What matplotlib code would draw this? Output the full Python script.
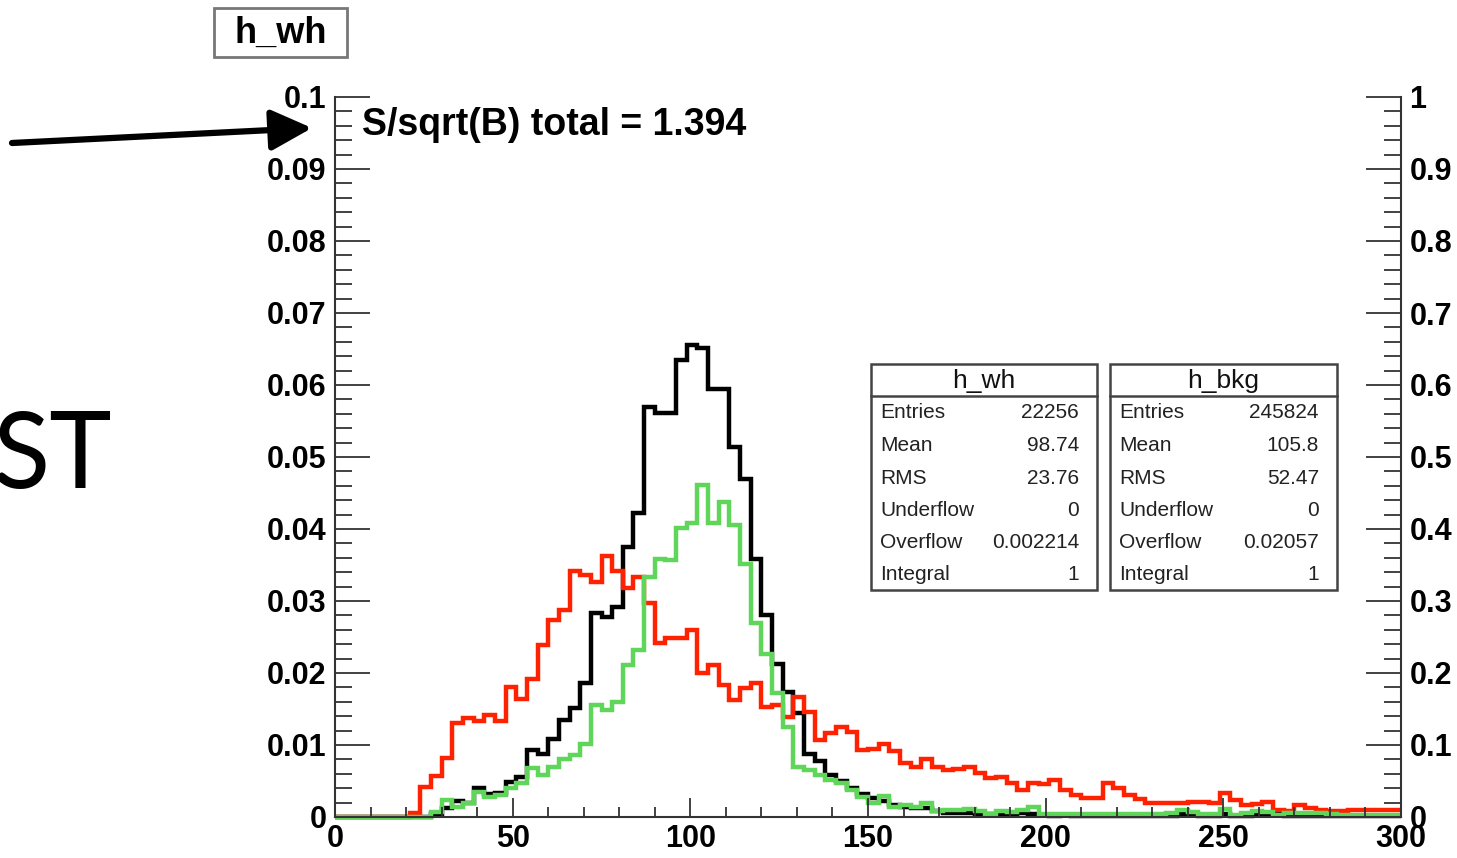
import numpy as np
import matplotlib
matplotlib.use("Agg")
import matplotlib.pyplot as plt
from matplotlib.patches import Rectangle, FancyArrowPatch
from matplotlib.ticker import MultipleLocator, FixedLocator, FuncFormatter

# ---------------------------------------------------------------- data
bin_edges = np.arange(0, 301, 3)

# signal (h_wh), normalised
h_wh = [
    0, 0, 0, 0, 0, 0, 0, 0, 0, 0.0004,
    0.0012, 0.0022, 0.0020, 0.0040, 0.0032, 0.0034, 0.0049, 0.0056, 0.0093, 0.0088,
    0.0109, 0.0135, 0.0151, 0.0186, 0.0283, 0.0278, 0.0292, 0.0375, 0.0422, 0.0570,
    0.0561, 0.0561, 0.0635, 0.0656, 0.0651, 0.0595, 0.0595, 0.0514, 0.0470, 0.0359,
    0.0281, 0.0213, 0.0174, 0.0144, 0.0088, 0.0078, 0.0058, 0.0050, 0.0040, 0.0032,
    0.0026, 0.0022, 0.0017, 0.0014, 0.0012, 0.0012, 0.0008, 0.0006, 0.0006, 0.0005,
    0.0004, 0.0004, 0.0003, 0.0003, 0.0005, 0.0004, 0.0003, 0.0002, 0.0003, 0.0002,
    0.0002, 0.0002, 0.0002, 0.0002, 0.0001, 0.0002, 0.0002, 0.0002, 0.0002, 0.0004,
    0.0003, 0.0002, 0.0002, 0.0004, 0.0002, 0.0002, 0.0003, 0.0004, 0.0004, 0.0002,
    0.0001, 0.0002, 0.0002, 0.0001, 0.0002, 0.0001, 0.0001, 0.0002, 0.0001, 0.0001,
]

# background (h_bkg), normalised
h_bkg = [
    0, 0, 0, 0, 0, 0, 0, 0.0005, 0.0042, 0.0057,
    0.0082, 0.0130, 0.0137, 0.0133, 0.0142, 0.0133, 0.0181, 0.0164, 0.0192, 0.0239,
    0.0274, 0.0288, 0.0341, 0.0336, 0.0327, 0.0362, 0.0341, 0.0318, 0.0334, 0.0297,
    0.0241, 0.0248, 0.0248, 0.0260, 0.0200, 0.0211, 0.0183, 0.0163, 0.0179, 0.0186,
    0.0153, 0.0156, 0.0139, 0.0167, 0.0146, 0.0107, 0.0116, 0.0125, 0.0118, 0.0093,
    0.0095, 0.0102, 0.0092, 0.0075, 0.0070, 0.0081, 0.0070, 0.0065, 0.0066, 0.0070,
    0.0061, 0.0054, 0.0056, 0.0047, 0.0038, 0.0047, 0.0046, 0.0051, 0.0038, 0.0031,
    0.0027, 0.0026, 0.0047, 0.0040, 0.0030, 0.0025, 0.0020, 0.0020, 0.0019, 0.0019,
    0.0021, 0.0021, 0.0019, 0.0033, 0.0024, 0.0016, 0.0018, 0.0021, 0.0010, 0.0009,
    0.0016, 0.0012, 0.0010, 0.0008, 0.0008, 0.0010, 0.0010, 0.0010, 0.0010, 0.0010,
]

# signal after selection
h_sel = [
    0, 0, 0, 0, 0, 0, 0, 0, 0, 0.0007,
    0.0024, 0.0014, 0.0019, 0.0035, 0.0028, 0.0030, 0.0040, 0.0047, 0.0068, 0.0058,
    0.0070, 0.0081, 0.0086, 0.0102, 0.0156, 0.0149, 0.0160, 0.0211, 0.0232, 0.0334,
    0.0359, 0.0357, 0.0402, 0.0408, 0.0461, 0.0409, 0.0438, 0.0406, 0.0352, 0.0269,
    0.0227, 0.0172, 0.0125, 0.0070, 0.0065, 0.0058, 0.0051, 0.0047, 0.0038, 0.0028,
    0.0019, 0.0029, 0.0014, 0.0016, 0.0014, 0.0020, 0.0009, 0.0010, 0.0010, 0.0011,
    0.0008, 0.0004, 0.0008, 0.0007, 0.0010, 0.0014, 0.0004, 0.0004, 0.0004, 0.0004,
    0.0004, 0.0004, 0.0004, 0.0004, 0.0004, 0.0004, 0.0004, 0.0004, 0.0005, 0.0010,
    0.0007, 0.0004, 0.0004, 0.0011, 0.0003, 0.0006, 0.0008, 0.0007, 0.0003, 0.0005,
    0.0005, 0.0005, 0.0005, 0.0004, 0.0003, 0.0003, 0.0003, 0.0003, 0.0003, 0.0003,
]

x_ticks = [0, 50, 100, 150, 200, 250, 300]
left_ticks = [0, 0.01, 0.02, 0.03, 0.04, 0.05, 0.06, 0.07, 0.08, 0.09, 0.1]
right_ticks = [0, 0.1, 0.2, 0.3, 0.4, 0.5, 0.6, 0.7, 0.8, 0.9, 1]

stat_labels = ["Entries", "Mean", "RMS", "Underflow", "Overflow", "Integral"]
stats_wh = ["22256", "98.74", "23.76", "0", "0.002214", "1"]
stats_bkg = ["245824", "105.8", "52.47", "0", "0.02057", "1"]

title_text = "h_wh"
signif_text = "S/sqrt(B) total = 1.394"
side_text = "ST"

# ---------------------------------------------------------------- layout
W, H = 1457, 858
plt.rcParams["font.family"] = ["Liberation Sans", "DejaVu Sans"]

fig = plt.figure(figsize=(W / 100, H / 100), dpi=100)


def fx(x):
    return x / W


def fy(y):
    return 1 - y / H


X0, X1, Y0, Y1 = 335, 1401, 817, 97
ax = fig.add_axes([fx(X0), fy(Y0), (X1 - X0) / W, (Y0 - Y1) / H])
ax.set_xlim(0, 300)
ax.set_ylim(0, 0.1)

for vals, col in [(h_wh, "black"), (h_bkg, "#ff2200"), (h_sel, "#5fd65a")]:
    ax.stairs(vals, bin_edges, baseline=None, color=col, lw=3.2, clip_on=False)

axis_col = "#333333"
for side in ["left", "bottom"]:
    ax.spines[side].set_color(axis_col)
    ax.spines[side].set_linewidth(1.5)
ax.spines["top"].set_visible(False)
ax.spines["right"].set_visible(False)

ax.xaxis.set_major_locator(FixedLocator(x_ticks))
ax.xaxis.set_minor_locator(MultipleLocator(10))
ax.yaxis.set_major_locator(FixedLocator(left_ticks))
ax.yaxis.set_minor_locator(MultipleLocator(0.002))
ax.xaxis.set_major_formatter(FuncFormatter(lambda v, p: f"{v:g}"))
ax.yaxis.set_major_formatter(FuncFormatter(lambda v, p: f"{v:g}"))
ax.tick_params(axis="x", which="major", direction="in", length=14, width=1.3,
               color=axis_col, pad=5, labelsize=22)
ax.tick_params(axis="x", which="minor", direction="in", length=7, width=1.3,
               color=axis_col)
ax.tick_params(axis="y", which="major", direction="in", length=25, width=1.3,
               color=axis_col, pad=6, labelsize=22)
ax.tick_params(axis="y", which="minor", direction="in", length=12, width=1.3,
               color=axis_col)
for lab in ax.get_xticklabels() + ax.get_yticklabels():
    lab.set_fontweight("bold")

ax2 = ax.twinx()
ax2.set_ylim(0, 1)
for side in ["left", "bottom", "top"]:
    ax2.spines[side].set_visible(False)
ax2.spines["right"].set_color(axis_col)
ax2.spines["right"].set_linewidth(1.5)
ax2.yaxis.set_major_locator(FixedLocator(right_ticks))
ax2.yaxis.set_minor_locator(MultipleLocator(0.02))
ax2.yaxis.set_major_formatter(FuncFormatter(lambda v, p: f"{v:g}"))
ax2.tick_params(axis="y", which="major", direction="in", length=25, width=1.3,
                color=axis_col, pad=6, labelsize=22)
ax2.tick_params(axis="y", which="minor", direction="in", length=12, width=1.3,
                color=axis_col)
for lab in ax2.get_yticklabels():
    lab.set_fontweight("bold")

# significance label inside the frame
fig.text(fx(362), fy(125), signif_text, fontsize=27, fontweight="bold",
         ha="left", va="center")

# title box
fig.patches.append(Rectangle((fx(214), fy(57)), (347 - 214) / W, (57 - 8) / H,
                             transform=fig.transFigure, fill=True, fc="white",
                             ec="#777777", lw=2))
fig.text(fx(281), fy(33), title_text, fontsize=26, fontweight="bold",
         ha="center", va="center")


# statistics boxes
def stat_box(x_left, x_right, name, values):
    top, bottom, sep = 364, 590, 396
    fig.patches.append(Rectangle((fx(x_left), fy(bottom)), (x_right - x_left) / W,
                                 (bottom - top) / H, transform=fig.transFigure,
                                 fc="white", ec="#444444", lw=1.8))
    fig.add_artist(plt.Line2D([fx(x_left), fx(x_right)], [fy(sep), fy(sep)],
                              transform=fig.transFigure, color="#444444", lw=1.8))
    fig.text(fx((x_left + x_right) / 2), fy(381), name, fontsize=19,
             ha="center", va="center", color="#111111")
    rows = [413, 445, 478, 511, 543, 574]
    for lab, val, yy in zip(stat_labels, values, rows):
        fig.text(fx(x_left + 9), fy(yy), lab, fontsize=15, ha="left",
                 va="center", color="#222222")
        fig.text(fx(x_right - 18), fy(yy), val, fontsize=15, ha="right",
                 va="center", color="#222222")


stat_box(871, 1097, "h_wh", stats_wh)
stat_box(1110, 1337, "h_bkg", stats_bkg)

# pointer arrow and side text
fig.add_artist(FancyArrowPatch(
    (fx(12), fy(143)), (fx(312), fy(128)), transform=fig.transFigure,
    arrowstyle="-|>,head_length=1.0,head_width=0.5", mutation_scale=25,
    lw=4.5, color="black", shrinkA=0, shrinkB=0))
fig.text(fx(112), fy(458), side_text, fontsize=76, family="Lato",
         ha="right", va="center")

fig.savefig("out.png", dpi=100)
